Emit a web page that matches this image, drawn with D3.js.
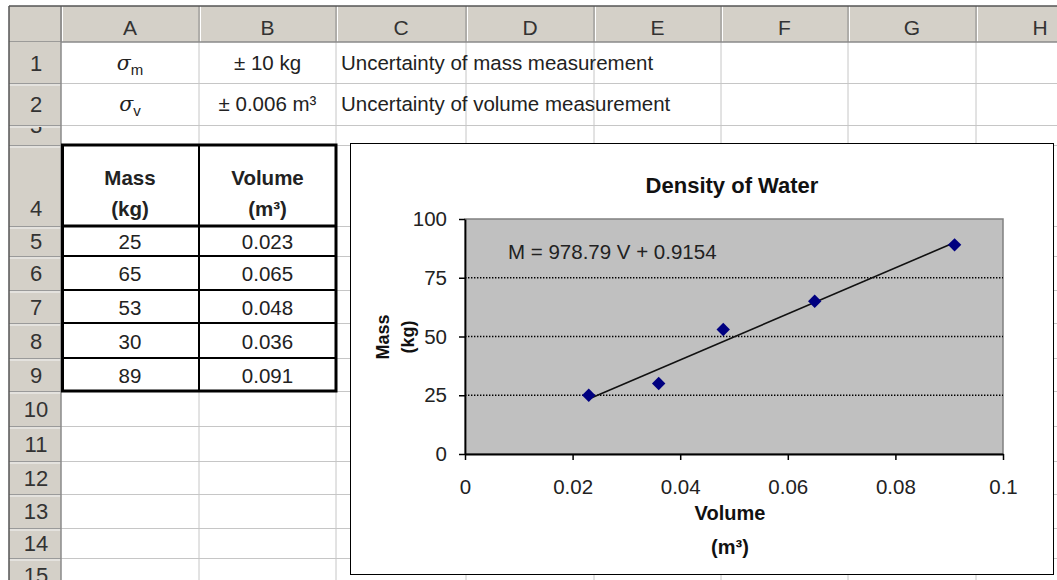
<!DOCTYPE html>
<html><head><meta charset="utf-8">
<script src="https://cdn.jsdelivr.net/npm/d3@7"></script>
<style>
body{margin:0;background:#fff}
svg{display:block}
text{font-family:"Liberation Sans",Arial,sans-serif}
</style>
</head><body>
<svg id="c" width="1057" height="580"></svg>
<script>
// ---------- data ----------
const columnLetters = ["A","B","C","D","E","F","G","H"];
const rowNumbers = [1,2,3,4,5,6,7,8,9,10,11,12,13,14,15];
const uncertaintySubscripts = ["m","v"];
const uncertaintyValues = ["± 10 kg","± 0.006 m³"];
const uncertaintyNotes = ["Uncertainty of mass measurement","Uncertainty of volume measurement"];
const tableHeaders = [["Mass","(kg)"],["Volume","(m³)"]];
const massKg = [25,65,53,30,89];
const volumeM3 = [0.023,0.065,0.048,0.036,0.091];
const xTicks = [0,0.02,0.04,0.06,0.08,0.1];
const yTicks = [0,25,50,75,100];
const gridTicks = [25,50,75];
const chartTitle = "Density of Water";
const xTitle = ["Volume","(m³)"];
const yTitle = ["Mass","(kg)"];
const fitSlope = 978.79, fitIntercept = 0.9154;

// ---------- layout ----------
const W = 1057, H = 580;
const colEdges = [9,61,199,336,466,594,721,848,976,1104];
const rowEdges = [6,42,83,125,145,226,256,290,323,358,391,426,461,494,528,558,592];
const hdrFill = "#d4d0c8", gridCol = "#c6c6c6", txt = "#222";
const cellFont = 20.5;

const svg = d3.select("#c");
svg.append("rect").attr("width",W).attr("height",H).attr("fill","#fff");

// sheet gridlines
const g = svg.append("g");
g.selectAll("line.v").data(colEdges.slice(2)).join("line")
  .attr("x1",d=>d).attr("x2",d=>d).attr("y1",rowEdges[1]).attr("y2",H)
  .attr("stroke",gridCol);
g.selectAll("line.h").data(rowEdges.slice(2)).join("line")
  .attr("y1",d=>d+0.5).attr("y2",d=>d+0.5).attr("x1",colEdges[1]).attr("x2",W)
  .attr("stroke",gridCol);

// column header row
svg.append("rect").attr("x",colEdges[0]).attr("y",rowEdges[0]).attr("width",W-colEdges[0]).attr("height",rowEdges[1]-rowEdges[0]).attr("fill",hdrFill);
svg.selectAll("line.ch").data(colEdges.slice(1,-1)).join("line")
  .attr("x1",d=>d).attr("x2",d=>d).attr("y1",rowEdges[0]).attr("y2",rowEdges[1])
  .attr("stroke","#8a8a8a");
svg.selectAll("line.chw").data(colEdges.slice(1,-1)).join("line")
  .attr("x1",d=>d+1.5).attr("x2",d=>d+1.5).attr("y1",rowEdges[0]).attr("y2",rowEdges[1])
  .attr("stroke","#fff");
svg.append("line").attr("x1",colEdges[0]).attr("x2",W).attr("y1",rowEdges[1]).attr("y2",rowEdges[1]).attr("stroke","#8a8a8a").attr("stroke-width",1.5);
svg.selectAll("text.col").data(columnLetters).join("text")
  .attr("x",(d,i)=>(colEdges[i+1]+colEdges[i+2])/2).attr("y",35)
  .attr("text-anchor","middle").attr("font-size",21).attr("fill","#333").text(d=>d);

// row header column
svg.append("rect").attr("x",colEdges[0]).attr("y",rowEdges[1]).attr("width",colEdges[1]-colEdges[0]).attr("height",H-rowEdges[1]).attr("fill",hdrFill);
svg.selectAll("line.rh").data(rowEdges.slice(2)).join("line")
  .attr("x1",colEdges[0]).attr("x2",colEdges[1]).attr("y1",d=>d+0.5).attr("y2",d=>d+0.5)
  .attr("stroke","#9a9a9a");
svg.selectAll("line.rhw").data(rowEdges.slice(2)).join("line")
  .attr("x1",colEdges[0]).attr("x2",colEdges[1]).attr("y1",d=>d+2).attr("y2",d=>d+2)
  .attr("stroke","#f4f4f4");
svg.append("line").attr("x1",colEdges[1]).attr("x2",colEdges[1]).attr("y1",rowEdges[0]).attr("y2",H).attr("stroke","#8a8a8a").attr("stroke-width",1.5);
const defs = svg.append("defs");
rowNumbers.forEach((r,i)=>{
  defs.append("clipPath").attr("id","rc"+i).append("rect")
    .attr("x",colEdges[0]).attr("y",rowEdges[i+1]+2).attr("width",colEdges[1]-colEdges[0]).attr("height",rowEdges[i+2]-rowEdges[i+1]-2);
});
svg.selectAll("text.row").data(rowNumbers).join("text")
  .attr("clip-path",(d,i)=>`url(#rc${i})`)
  .attr("x",(colEdges[0]+colEdges[1])/2+1)
  .attr("y",(d,i)=> d===3 ? rowEdges[i+1]+8 : d===4 ? rowEdges[i+2]-10 : (rowEdges[i+1]+rowEdges[i+2])/2+8)
  .attr("text-anchor","middle").attr("font-size",22).attr("fill","#333").text(d=>d);

// outer frame
svg.append("line").attr("x1",colEdges[0]).attr("x2",W).attr("y1",rowEdges[0]).attr("y2",rowEdges[0]).attr("stroke","#555").attr("stroke-width",1.5);
svg.append("line").attr("x1",colEdges[0]).attr("x2",colEdges[0]).attr("y1",rowEdges[0]).attr("y2",H).attr("stroke","#555").attr("stroke-width",1.5);

// rows 1-2
const cA = (colEdges[1]+colEdges[2])/2, cB = (colEdges[2]+colEdges[3])/2;
uncertaintySubscripts.forEach((s,i)=>{
  const y = (rowEdges[i+1]+rowEdges[i+2])/2+7;
  const t = svg.append("text").attr("x",cA).attr("y",y).attr("text-anchor","middle").attr("font-size",cellFont).attr("fill",txt);
  t.append("tspan").attr("font-style","italic").attr("font-family","DejaVu Serif, serif").text("σ");
  t.append("tspan").attr("dy",5).attr("font-size",15).text(s);
  svg.append("text").attr("x",cB).attr("y",y).attr("text-anchor","middle").attr("font-size",cellFont).attr("fill",txt).text(uncertaintyValues[i]);
  svg.append("text").attr("x",colEdges[3]+5).attr("y",y).attr("font-size",cellFont).attr("fill",txt).text(uncertaintyNotes[i]);
});

// table header row 4
tableHeaders.forEach((h,i)=>{
  const cx = i===0?cA:cB;
  svg.append("text").attr("x",cx).attr("y",185).attr("text-anchor","middle").attr("font-size",cellFont).attr("font-weight","bold").attr("fill",txt).text(h[0]);
  svg.append("text").attr("x",cx).attr("y",216).attr("text-anchor","middle").attr("font-size",cellFont).attr("font-weight","bold").attr("fill",txt).text(h[1]);
});
// table values
const fmtV = d3.format(".3f");
svg.selectAll("text.m").data(massKg).join("text")
  .attr("x",cA).attr("y",(d,i)=>(rowEdges[i+5]+rowEdges[i+6])/2+8)
  .attr("text-anchor","middle").attr("font-size",cellFont).attr("fill",txt).text(d=>d);
svg.selectAll("text.vv").data(volumeM3).join("text")
  .attr("x",cB).attr("y",(d,i)=>(rowEdges[i+5]+rowEdges[i+6])/2+8)
  .attr("text-anchor","middle").attr("font-size",cellFont).attr("fill",txt).text(d=>fmtV(d));
// table borders
svg.append("rect").attr("x",colEdges[1]+1.5).attr("y",rowEdges[4]).attr("width",colEdges[3]-colEdges[1]-1.5).attr("height",rowEdges[10]-rowEdges[4])
  .attr("fill","none").attr("stroke","#000").attr("stroke-width",3);
svg.append("line").attr("x1",colEdges[2]).attr("x2",colEdges[2]).attr("y1",rowEdges[4]).attr("y2",rowEdges[10]).attr("stroke","#000").attr("stroke-width",2);
svg.selectAll("line.tb").data(rowEdges.slice(5,10)).join("line")
  .attr("x1",colEdges[1]).attr("x2",colEdges[3]).attr("y1",d=>d).attr("y2",d=>d)
  .attr("stroke","#000").attr("stroke-width",(d,i)=>i===0?3:2);

// ---------- chart ----------
svg.append("rect").attr("x",350.5).attr("y",143.5).attr("width",703).attr("height",431).attr("fill","#fff").attr("stroke","#000");

const x = d3.scaleLinear().domain([0,0.1]).range([465,1003]);
const y = d3.scaleLinear().domain([0,100]).range([454,219]);

svg.append("rect").attr("x",x(0)).attr("y",y(100)).attr("width",x(0.1)-x(0)).attr("height",y(0)-y(100))
  .attr("fill","#c0c0c0").attr("stroke","#808080").attr("stroke-width",1.5);
svg.selectAll("line.grid").data(gridTicks).join("line")
  .attr("x1",x(0)).attr("x2",x(0.1)).attr("y1",d=>y(d)).attr("y2",d=>y(d))
  .attr("stroke","#000").attr("stroke-width",1.4).attr("stroke-dasharray","1.4,1.6");

const xAxis = svg.append("g").attr("transform",`translate(0,${y(0)})`)
  .call(d3.axisBottom(x).tickValues(xTicks).tickSize(6).tickSizeOuter(0).tickPadding(19)
    .tickFormat(d=>String(+d.toFixed(2))));
const yAxis = svg.append("g").attr("transform",`translate(${x(0)},0)`)
  .call(d3.axisLeft(y).tickValues(yTicks).tickSize(6).tickSizeOuter(0).tickPadding(12));
[xAxis,yAxis].forEach(a=>{
  a.select(".domain").attr("stroke","#000").attr("stroke-width",1.8);
  a.selectAll(".tick line").attr("stroke","#000").attr("stroke-width",1.5);
  a.selectAll(".tick text").attr("font-size",20.5).attr("fill","#222").attr("font-family","Liberation Sans, Arial, sans-serif");
});

// trendline
const vExt = d3.extent(volumeM3);
svg.append("path").datum(vExt)
  .attr("d",d3.line().x(v=>x(v)).y(v=>y(fitSlope*v+fitIntercept)))
  .attr("stroke","#111").attr("stroke-width",1.6).attr("fill","none");

// points
const diamond = d3.symbol().type(d3.symbolSquare).size(90);
svg.selectAll("path.pt").data(volumeM3).join("path")
  .attr("d",diamond)
  .attr("transform",(d,i)=>`translate(${x(d)},${y(massKg[i])}) rotate(45)`)
  .attr("fill","#000080");

// equation label
svg.append("text").attr("x",508).attr("y",259).attr("font-size",20.5).attr("fill","#222")
  .text(`M = ${fitSlope} V + ${fitIntercept}`);

// titles
svg.append("text").attr("x",732).attr("y",193).attr("text-anchor","middle").attr("font-size",22).attr("font-weight","bold").attr("fill","#111").text(chartTitle);
svg.append("text").attr("x",730).attr("y",520).attr("text-anchor","middle").attr("font-size",20).attr("font-weight","bold").attr("fill","#111").text(xTitle[0]);
svg.append("text").attr("x",730).attr("y",554).attr("text-anchor","middle").attr("font-size",20).attr("font-weight","bold").attr("fill","#111").text(xTitle[1]);
yTitle.forEach((t,i)=>{
  svg.append("text").attr("transform",`translate(${i===0?389:414},337) rotate(-90)`)
    .attr("text-anchor","middle").attr("font-size",18).attr("font-weight","bold").attr("fill","#111").text(t);
});
</script>
</body></html>
